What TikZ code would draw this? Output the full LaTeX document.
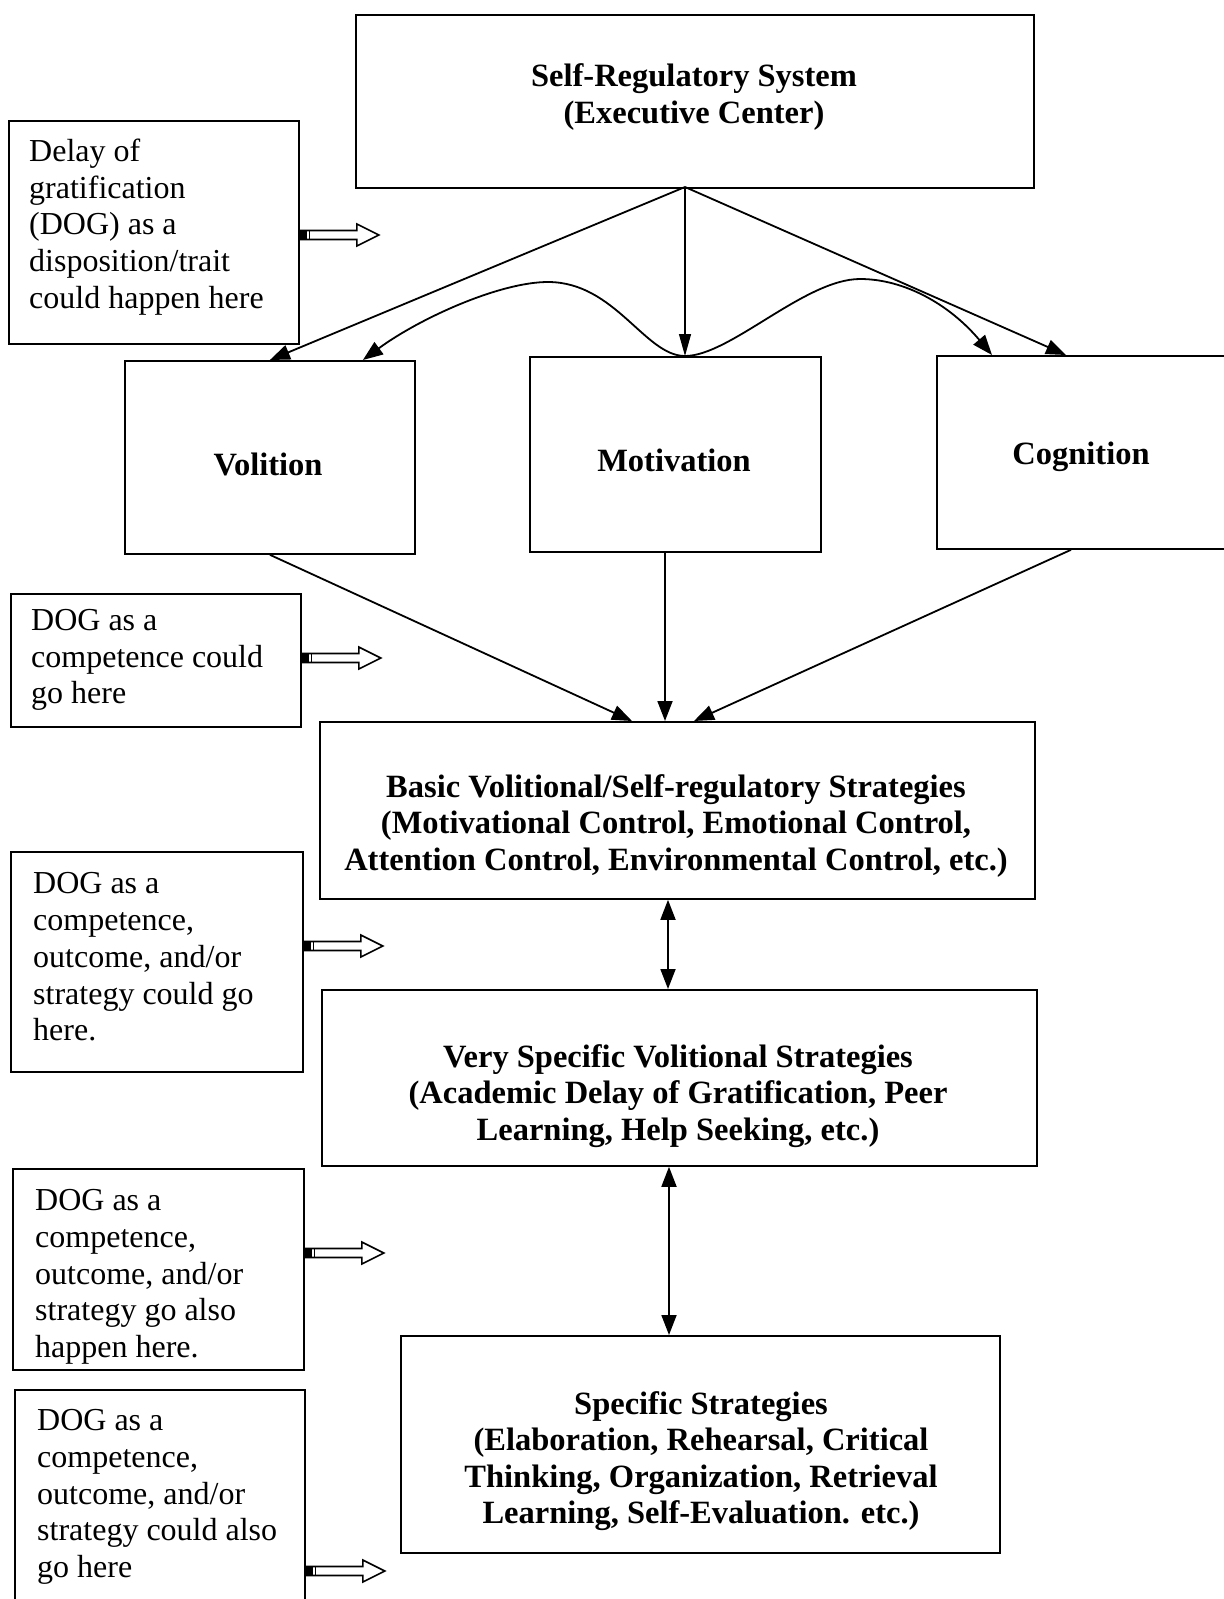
\documentclass[tikz,border=0pt]{standalone}
\usepackage{fontspec}
\setmainfont{Liberation Serif}
\usetikzlibrary{arrows.meta,calc}
\tikzset{
  boxst/.style={draw, line width=1.8pt, rectangle, inner sep=0pt, anchor=north west},
  regtxt/.style={align=left, anchor=west, inner sep=0pt, font=\fontsize{32}{36.7}\selectfont},
  boldtxt/.style={align=center, anchor=center, inner sep=0pt, font=\fontsize{32.5}{36.5}\selectfont\bfseries},
  conn/.style={line width=1.8pt, -{Triangle[length=20pt,width=15pt]}},
  thinconn/.style={line width=1.2pt, -{Triangle[length=22pt,width=12pt]}},
  dblconn/.style={line width=1.8pt, {Triangle[length=20pt,width=15pt]}-{Triangle[length=20pt,width=15pt]}},
  hollow/.style={draw, line width=1.6pt, fill=white},
}
\newcommand\hollowarr[1]{%
  \draw[hollow] ($(#1)+(0,-4.5)$) -- ++(57,0) -- ++(0,-6.5) -- ++(22,11) -- ++(-22,11) -- ++(0,-6.5) -- ++(-57,0) -- cycle;
  \fill ($(#1)+(0,-4.5)$) rectangle ++(7,9);
  \draw[line width=1.2pt] ($(#1)+(10,-4.5)$) -- ++(0,9);
}
\begin{document}
\begin{tikzpicture}[x=1pt,y=-1pt]
\useasboundingbox[fill=white] (0,0) rectangle (1224,1599);

% main boxes
\node[boxst, minimum width=678pt, minimum height=173pt] (top) at (355,14) {};
\node[boxst, minimum width=290pt, minimum height=193pt] (vol) at (124,360) {};
\node[boxst, minimum width=291pt, minimum height=195pt] (mot) at (529,356) {};
\node[boxst, minimum width=300pt, minimum height=193pt] (cog) at (936,355) {};
\node[boxst, minimum width=715pt, minimum height=177pt] (basic) at (319,721) {};
\node[boxst, minimum width=715pt, minimum height=176pt] (very) at (321,989) {};
\node[boxst, minimum width=599pt, minimum height=217pt] (spec) at (400,1335) {};

% side boxes
\node[boxst, minimum width=290pt, minimum height=223pt] (l1) at (8,120) {};
\node[boxst, minimum width=290pt, minimum height=133pt] (l2) at (10,593) {};
\node[boxst, minimum width=292pt, minimum height=220pt] (l3) at (10,851) {};
\node[boxst, minimum width=291pt, minimum height=201pt] (l4) at (12,1168) {};
\node[boxst, minimum width=290pt, minimum height=225pt] (l5) at (14,1389) {};

% bold texts
\node[boldtxt] (ttop) at (694,97) {Self-Regulatory System\\(Executive Center)};
\node[boldtxt] (tvol) at (268,464) {Volition};
\node[boldtxt] (tmot) at (674,460) {Motivation};
\node[boldtxt] (tcog) at (1081,457) {Cognition};
\node[boldtxt] (tbasic) at (676,826) {Basic Volitional/Self-regulatory Strategies\\(Motivational Control, Emotional Control,\\Attention Control, Environmental Control, etc.)};
\node[boldtxt] (tvery) at (678,1096) {Very Specific Volitional Strategies\\(Academic Delay of Gratification, Peer\\Learning, Help Seeking, etc.)};
\node[boldtxt] (tspec) at (701,1461) {Specific Strategies\\(Elaboration, Rehearsal, Critical\\Thinking, Organization, Retrieval\\Learning, Self-Evaluation. etc.)};

% side texts
\node[regtxt] (t1) at (29,227) {Delay of\\gratification\\(DOG) as a\\disposition/trait\\could happen here};
\node[regtxt] (t2) at (31,660) {DOG as a\\competence could\\go here};
\node[regtxt] (t3) at (33,957) {DOG as a\\competence,\\outcome, and/or\\strategy could go\\here.};
\node[regtxt] (t4) at (35,1277) {DOG as a\\competence,\\outcome, and/or\\strategy go also\\happen here.};
\node[regtxt] (t5) at (37,1497) {DOG as a\\competence,\\outcome, and/or\\strategy could also\\go here};

% hub coordinates
\coordinate (hub) at (685,187);
\coordinate (motin) at (685,356);

% connectors from executive center
\draw[conn] (hub) -- (vol.north);
\draw[thinconn] (hub) -- (motin);
\draw[conn] (hub) -- ($(cog.north west)+(130,0)$);

% curved arrows
\draw[conn] (motin) .. controls (645,356) and (615,282) .. (548,282)
  .. controls (500,282) and (420,318) .. ($(vol.north)+(93,0)$);
\draw[conn] (motin) .. controls (730,356) and (805,279) .. (860,279)
  .. controls (905,279) and (950,305) .. ($(cog.north west)+(56,0)$);

% into basic
\draw[conn] (vol.south) -- ($(basic.north west)+(313,0)$);
\draw[conn] ($(mot.south west)+(136,0)$) -- ($(basic.north west)+(346,0)$);
\draw[conn] ($(cog.south west)+(135,0)$) -- ($(basic.north west)+(375,0)$);

% double arrows
\draw[dblconn] ($(basic.south west)+(349,0)$) -- ($(very.north west)+(347,0)$);
\draw[dblconn] ($(very.south west)+(348,0)$) -- ($(spec.north west)+(269,0)$);

% hollow arrows
\coordinate (h1) at (l1.east |- 0,235);
\coordinate (h2) at (l2.east |- 0,658);
\coordinate (h3) at (l3.east |- 0,946);
\coordinate (h4) at (l4.east |- 0,1253);
\coordinate (h5) at (l5.east |- 0,1571);
\hollowarr{h1}
\hollowarr{h2}
\hollowarr{h3}
\hollowarr{h4}
\hollowarr{h5}
\end{tikzpicture}
\end{document}
